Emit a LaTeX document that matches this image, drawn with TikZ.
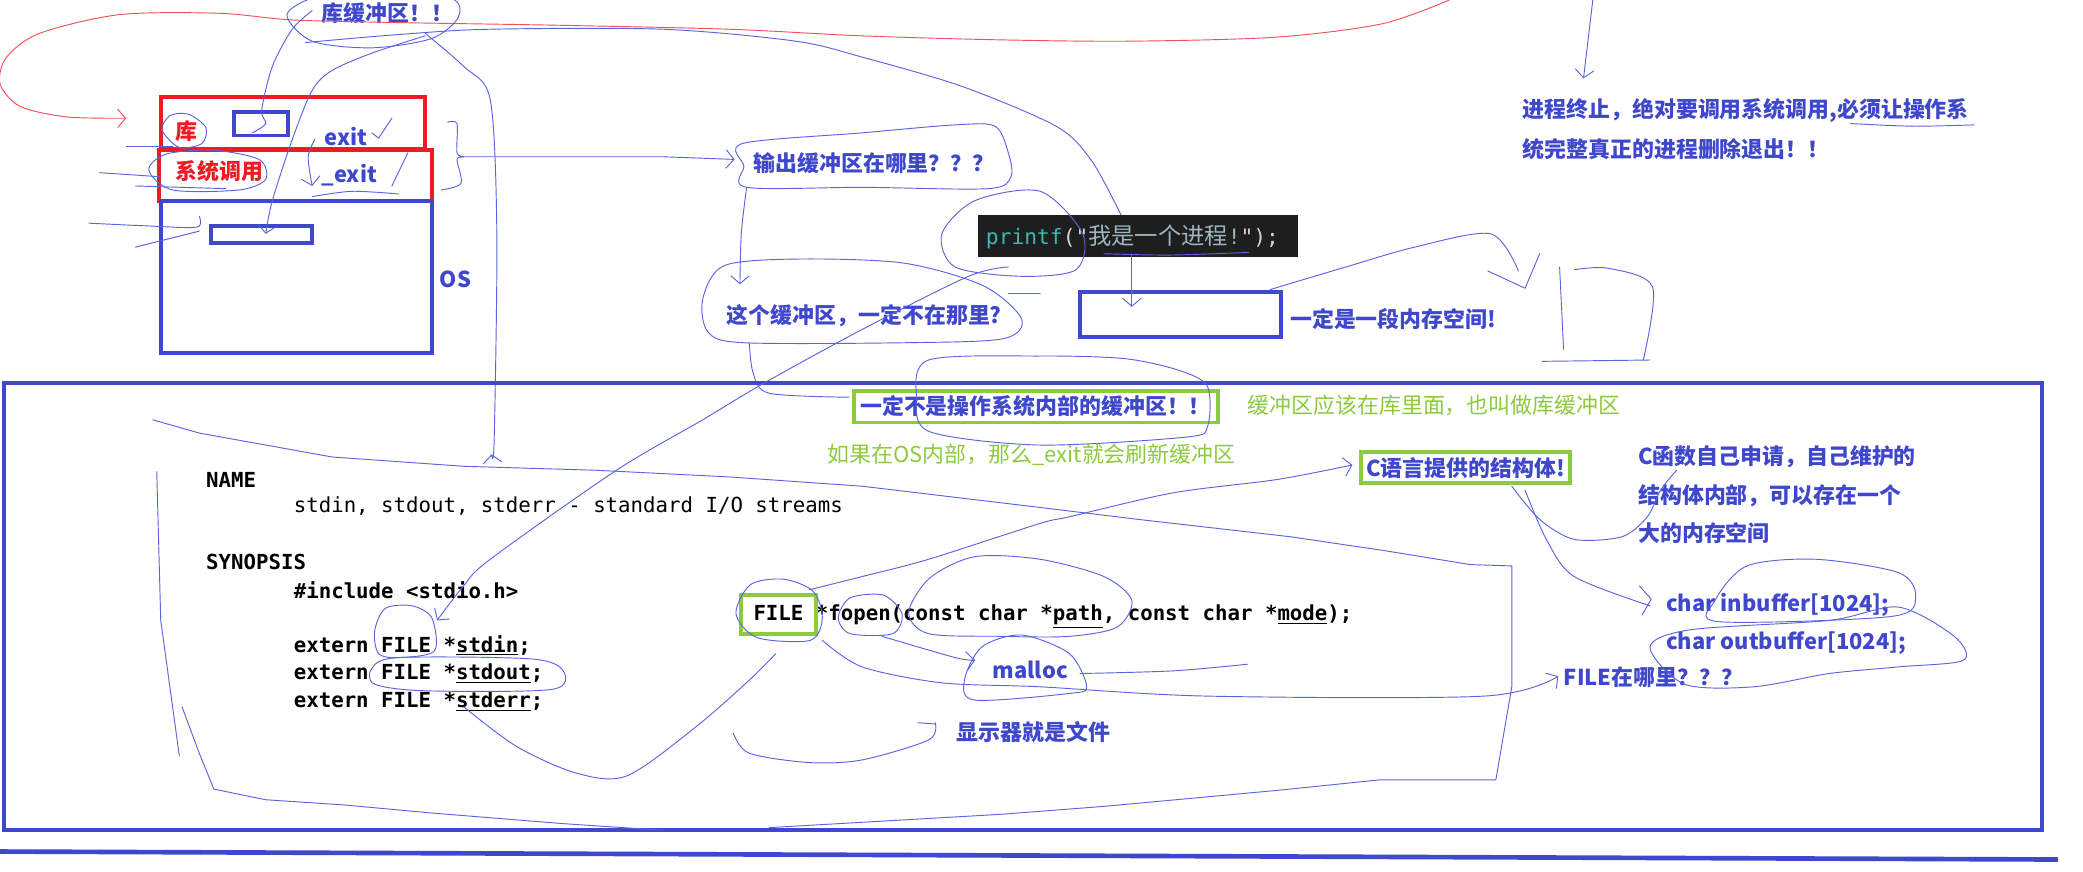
\documentclass[tikz,border=0pt]{standalone}
\usepackage{fontspec}
\setmainfont{Noto Sans CJK SC}
\setmonofont{DejaVu Sans Mono}
\usetikzlibrary{arrows.meta,positioning}
\definecolor{inkblue}{HTML}{3F48CC}
\definecolor{penblue}{HTML}{5A64DE}
\definecolor{inkred}{HTML}{ED1C24}
\definecolor{penred}{HTML}{F0505A}
\definecolor{inkgreen}{HTML}{8CCB3C}
\definecolor{codebg}{HTML}{1E1E1E}
\definecolor{codefn}{HTML}{3CB8B0}
\definecolor{codestr}{HTML}{9DB5BE}
\definecolor{codegray}{HTML}{D4D4D4}
\tikzset{
  pen/.style={draw=penblue, line width=0.7pt, line join=round, line cap=round},
  redpen/.style={draw=penred, line width=0.7pt, line join=round},
  barb/.style={-{Straight Barb[length=6pt,width=14pt]}},
  bluebox/.style={draw=inkblue, line width=3pt},
  redbox/.style={draw=inkred, line width=3pt},
  greenbox/.style={draw=inkgreen, line width=3pt, inner xsep=5pt, inner ysep=4pt},
  note/.style={inner sep=0pt, anchor=west, text=inkblue, font=\bfseries\fontsize{16.5}{20}\selectfont},
  rednote/.style={note, text=inkred},
  greennote/.style={inner sep=0pt, anchor=west, text=inkgreen, font=\fontsize{16.5}{20}\selectfont},
  code/.style={inner sep=0pt, anchor=west, font=\ttfamily\fontsize{15.6}{18}\selectfont},
  boldcode/.style={code, font=\ttfamily\bfseries\fontsize{15.6}{18}\selectfont},
}
\begin{document}
\begin{tikzpicture}[x=1pt, y=-1pt]
    \useasboundingbox[fill=white] (0,0) rectangle (1568,656);

    % library / system call / OS stack
    \draw[redbox] (121,73) rectangle (320,112);
    \draw[redbox] (120,113) rectangle (325,151);
    \draw[bluebox] (121,151) rectangle (325,266);
    \draw[bluebox] (176,84) rectangle (217,102);
    \draw[bluebox] (159,170) rectangle (235,183);
    \node[rednote] (lib) at (132,99) {库};
    \node[rednote] (syscall) at (132,129) {系统调用};
    \node[note] (exitA) at (244,103) {exit};
    \node[note] (exitB) at (242,132) {\_exit};
    \node[note] (os) at (331,210) {OS};
    \node[note] (libbuf) at (242,10) {库缓冲区！！};

    % red loop
    \draw[redpen, barb] plot[smooth] coordinates {(1091,0) (1040,18) (960,28) (850,31) (753,30) (649,27) (549,22) (420,19) (300,17) (220,15) (165,10) (90,11) (30,25) (5,43) (0,63) (15,80) (50,88) (95,89)};

    % strokes round the stack
    \draw[pen] plot[smooth cycle] coordinates {(216,11) (240,-3) (290,-7) (340,-1) (345,13) (325,29) (280,36) (235,31)};
    \draw[pen] plot[smooth] coordinates {(235,8) (220,22) (205,50) (197,83) (200,93) (190,100)};
    \draw[pen, barb] plot[smooth] coordinates {(320,27) (280,40) (250,53) (235,68) (220,105) (205,151) (200,176)};
    \draw[pen, barb] plot[smooth] coordinates {(320,25) (349,50) (369,75) (374,176) (372,331) (370,342)};
    \draw[pen] plot[smooth] coordinates {(230,32) (300,26) (369,22) (499,22) (599,31) (649,43) (724,65) (795,95) (821,120) (841,156) (844,163)};
    \draw[pen] plot[smooth cycle] coordinates {(122,98) (128,87) (142,86) (155,96) (152,108) (135,111)};
    \draw[pen] plot[smooth cycle] coordinates {(112,128) (125,116) (160,113) (195,120) (200,135) (180,143) (130,143)};
    \draw[pen] (95,110) -- (130,110);
    \draw[pen] (75,130) -- (120,133);
    \draw[pen] (102,140) -- (170,142);
    \draw[pen] plot[smooth] coordinates {(67,168) (110,170) (148,171) (150,163)};
    \draw[pen] (102,186) -- (150,174);
    \draw[pen] (280,100) -- (285,104) -- (295,89);
    \draw[pen] (295,140) -- (307,115);
    \draw[pen, barb] plot[smooth] coordinates {(237,105) (232,118) (235,140)};
    \draw[pen] plot[smooth] coordinates {(235,148) (265,144) (300,146)};

    % where is the output buffer
    \node[note] (where) at (567,123) {输出缓冲区在哪里？？？};
    \draw[pen] plot[smooth] coordinates {(337,92) (344,93) (344,115) (349,118) (344,120) (347,138) (332,143)};
    \draw[pen, barb] (349,118) -- (499,118) -- (553,120);
    \draw[pen] plot[smooth cycle] coordinates {(559,108) (649,100) (719,94) (749,95) (759,115) (761,133) (744,142) (650,141) (562,141) (560,125)};
    \draw[pen, barb] plot[smooth] coordinates {(562,141) (558,176) (557,214)};
    \node[note] (notthere) at (547,238) {这个缓冲区，一定不在那里?};
    \draw[pen] plot[smooth cycle] coordinates {(529,225) (545,200) (600,195) (680,198) (740,215) (769,240) (755,255) (680,258) (560,258) (533,250)};
    \draw[pen] plot[smooth] coordinates {(564,258) (567,281) (579,296) (639,299)};

    % printf and its memory
    \node[fill=codebg, inner sep=0pt, minimum width=241pt, minimum height=31pt, anchor=north west] (printfbg) at (736,162) {};
    \node[anchor=west, inner sep=0pt, font=\ttfamily\fontsize{16}{18}\selectfont] (printf) at (742,178)
      {\color{codefn}printf\color{codegray}("\color{codestr}{\rmfamily\fontsize{17.5}{18}\selectfont 我是一个进程}!\color{codegray}");};
    \draw[pen] plot[smooth cycle] coordinates {(709,176) (734,151) (783,144) (815,176) (810,203) (769,208) (719,201)};
    \draw[pen] plot[smooth] coordinates {(831,191) (880,192) (940,190)};
    \draw[bluebox] (813,220) rectangle (964,254);
    \draw[pen, barb] (852,191) -- (852,231);
    \node[note] (memspace) at (971,240) {一定是一段内存空间!};
    \draw[pen] (759,221) -- (783,221);
    \draw[pen] plot[smooth] coordinates {(956,218) (1013,201) (1065,186) (1122,176) (1143,204)};
    \draw[pen] (1120,204) -- (1148,217) -- (1159,191);
    \draw[pen] (1174,201) -- (1177,263);
    \draw[pen] plot[smooth] coordinates {(1185,203) (1211,202) (1244,216) (1237,271)};
    \draw[pen] (1161,272) -- (1242,271);

    % process exit
    \draw[pen, barb] (1199,0) -- (1192,59);
    \node[note] (exitnoteA) at (1146,83) {进程终止，绝对要调用系统调用,必须让操作系};
    \node[note] (exitnoteB) at (1146,112) {统完整真正的进程删除退出！！};
    \draw[pen] plot[smooth] coordinates {(1393,93) (1440,95) (1486,94)};

    % man page frame
    \draw[bluebox] (3,288) rectangle (1537,625);
    \draw[inkblue, line width=3.5pt] (0,641) -- (1549,647);
    \node[note, greenbox] (notos) at (641,306) {一定不是操作系统内部的缓冲区！！};
    \draw[pen] plot[smooth cycle] coordinates {(690,300) (699,271) (783,268) (847,270) (888,279) (909,291) (909,321) (893,329) (783,335) (700,325)};
    \node[greennote] (inlib) at (939,305) {缓冲区应该在库里面，也叫做库缓冲区};
    \node[greennote] (ifos) at (623,342) {如果在OS内部，那么\_exit就会刷新缓冲区};

    % man page text
    \node[boldcode] (name) at (155,361) {NAME};
    \node[code] (desc) at (221,381) {stdin, stdout, stderr - standard I/O streams};
    \node[boldcode] (synopsis) at (155,423) {SYNOPSIS};
    \node[boldcode] (include) at (221,444) {\#include <stdio.h>};
    \node[boldcode] (stdin) at (221,486) {extern FILE *\underline{stdin};};
    \node[boldcode] (stdout) at (221,507) {extern FILE *\underline{stdout};};
    \node[boldcode] (stderr) at (221,528) {extern FILE *\underline{stderr};};
    \node[boldcode] (fopen) at (567,464) {FILE *fopen(const char *\underline{path}, const char *\underline{mode});};
    \draw[draw=inkgreen, line width=3pt] (558,448) rectangle (614,477);

    % strokes over the man page
    \draw[pen] plot coordinates {(115,316) (150,326) (250,344) (349,351) (449,354) (549,359) (649,366) (783,382) (857,391) (971,404) (1039,414) (1107,425) (1138,426) (1138,517) (1126,587) (1039,587) (961,595) (831,607) (753,613) (579,623)};
    \draw[pen] (118,355) -- (121,467) -- (135,569);
    \draw[pen] plot coordinates {(137,532) (150,567) (161,594) (200,602) (260,606) (325,612) (424,620) (499,625)};
    \draw[pen, barb] plot[smooth] coordinates {(759,201) (729,208) (649,248) (574,289) (529,316) (464,354) (369,421) (349,441) (329,467)};
    \draw[pen] plot[smooth cycle] coordinates {(282,475) (290,458) (310,456) (325,465) (327,490) (300,495) (285,492)};
    \draw[pen] plot[smooth cycle] coordinates {(280,503) (300,495) (400,496) (424,505) (415,519) (320,520) (282,515)};
    \draw[pen] plot[smooth] coordinates {(349,532) (389,562) (434,582) (472,584) (524,547) (564,512) (584,492)};
    \draw[pen] plot[smooth] coordinates {(552,552) (564,567) (609,574) (649,572) (699,557) (704,544)};
    \draw[pen] (691,544) -- (704,545);
    \node[note] (screen) at (720,551) {显示器就是文件};
    \draw[pen] plot[smooth cycle] coordinates {(554,462) (565,440) (590,436) (612,445) (619,465) (610,482) (570,480)};
    \draw[pen] plot[smooth cycle] coordinates {(631,465) (640,450) (665,448) (679,462) (672,477) (640,477)};
    \draw[pen] plot[smooth cycle] coordinates {(684,461) (700,435) (734,419) (783,421) (831,434) (852,452) (841,472) (805,479) (753,479) (699,477)};

    % FILE is a struct
    \node[note, greenbox, inner xsep=4pt] (cstruct) at (1023,352) {C语言提供的结构体!};
    \draw[pen, barb] plot[smooth] coordinates {(609,444) (649,434) (699,421) (783,394) (805,389) (883,371) (961,361) (1018,350)};
    \node[note] (malloc) at (747,504) {malloc};
    \draw[pen] plot[smooth cycle] coordinates {(734,527) (726,512) (739,487) (769,478) (805,492) (818,517) (805,522)};
    \draw[pen] plot[smooth] coordinates {(813,507) (883,505) (939,500)};
    \draw[pen, barb] plot[smooth] coordinates {(664,479) (719,495) (734,497)};
    \node[note] (filewhere) at (1177,510) {FILE在哪里？？？};
    \draw[pen, barb] plot[smooth] coordinates {(619,482) (649,502) (709,514) (783,517) (909,524) (1117,524) (1173,509)};
    \node[note] (cfunA) at (1233,344) {C函数自己申请，自己维护的};
    \node[note] (cfunB) at (1233,373) {结构体内部，可以存在一个};
    \node[note] (cfunC) at (1233,401) {大的内存空间};
    \draw[pen] plot[smooth] coordinates {(1138,366) (1159,391) (1185,406) (1221,404) (1240,389) (1250,369) (1262,354)};
    \draw[pen] plot[smooth] coordinates {(1148,369) (1164,406) (1185,434) (1242,456)};
    \draw[pen] (1234,441) -- (1243,451) -- (1236,463);
    \node[note] (inbuf) at (1254,455) {char inbuffer[1024];};
    \node[note] (outbuf) at (1254,484) {char outbuffer[1024];};
    \draw[pen] plot[smooth cycle] coordinates {(1291,452) (1315,426) (1367,421) (1429,431) (1442,449) (1424,464) (1294,468)};
    \draw[pen] plot[smooth cycle] coordinates {(1242,487) (1273,474) (1377,467) (1429,457) (1471,479) (1478,497) (1429,502) (1377,507) (1320,517) (1268,515)};
\end{tikzpicture}
\end{document}
